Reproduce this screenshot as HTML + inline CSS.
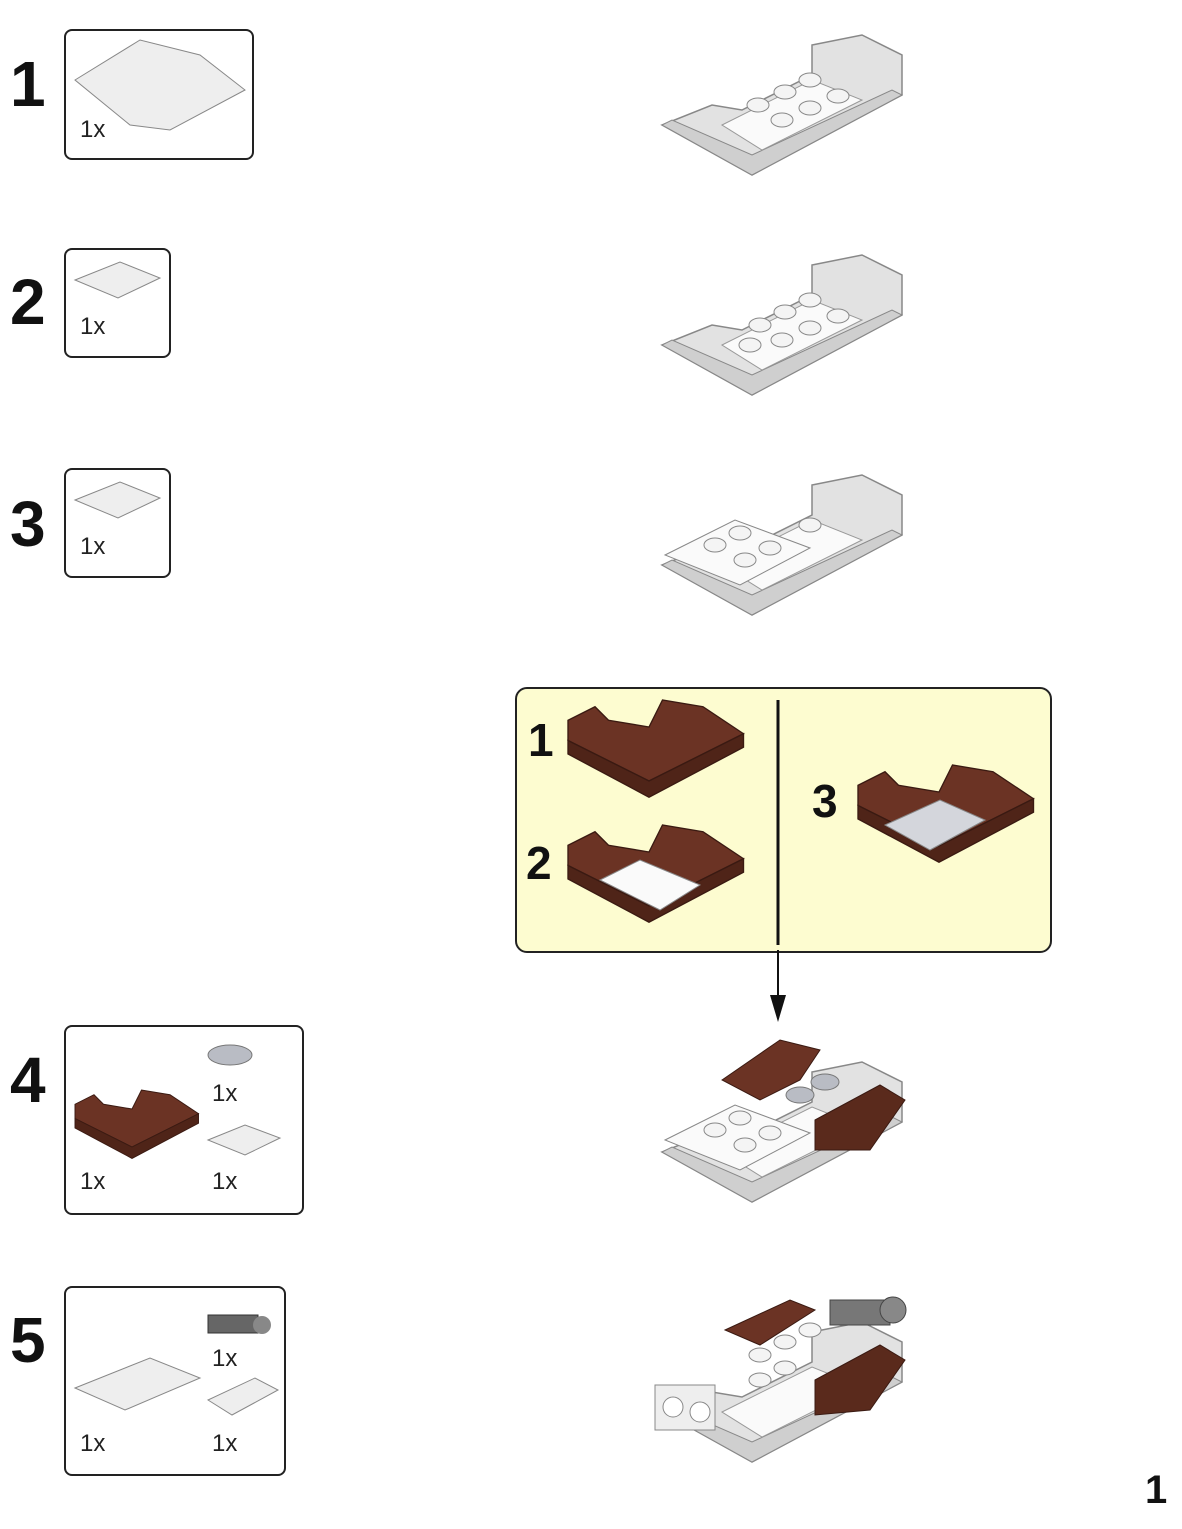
<!DOCTYPE html>
<html><head><meta charset="utf-8"><style>
body{margin:0;width:1182px;height:1529px;background:#fff;position:relative;overflow:hidden;font-family:"Liberation Sans",sans-serif}
.n{position:absolute;font-weight:bold;font-size:64px;color:#111;line-height:1}
.box{position:absolute;border:2.5px solid #222;border-radius:8px;background:#fff}
.q{position:absolute;font-size:24px;color:#222}
svg{position:absolute;left:0;top:0}
</style></head><body>
<div class="n" style="left:10px;top:52px">1</div>
<div class="n" style="left:10px;top:270px">2</div>
<div class="n" style="left:10px;top:492px">3</div>
<div class="n" style="left:10px;top:1048px">4</div>
<div class="n" style="left:10px;top:1308px">5</div>
<div class="box" style="left:64px;top:29px;width:186px;height:127px"></div>
<div class="box" style="left:64px;top:248px;width:103px;height:106px"></div>
<div class="box" style="left:64px;top:468px;width:103px;height:106px"></div>
<div class="box" style="left:64px;top:1025px;width:236px;height:186px"></div>
<div class="box" style="left:64px;top:1286px;width:218px;height:186px"></div>
<div class="box" style="left:515px;top:687px;width:533px;height:262px;background:#fdfcd0;border-radius:12px"></div>
<div class="q" style="left:80px;top:116px">1x</div>
<div class="q" style="left:80px;top:313px">1x</div>
<div class="q" style="left:80px;top:533px">1x</div>
<div class="q" style="left:80px;top:1168px">1x</div>
<div class="q" style="left:212px;top:1080px">1x</div>
<div class="q" style="left:212px;top:1168px">1x</div>
<div class="q" style="left:212px;top:1345px">1x</div>
<div class="q" style="left:80px;top:1430px">1x</div>
<div class="q" style="left:212px;top:1430px">1x</div>
<div class="n" style="left:528px;top:717px;font-size:46px">1</div>
<div class="n" style="left:526px;top:840px;font-size:46px">2</div>
<div class="n" style="left:812px;top:778px;font-size:46px">3</div>
<div class="n" style="left:1145px;top:1470px;font-size:40px">1</div>
<svg width="1182" height="1529">
<defs>
<g id="boat">
<polygon points="0,90 90,140 240,60 240,20 200,0 150,10 150,40 80,75 50,70 0,90" fill="#e2e2e2" stroke="#888" stroke-width="1.5"/>
<polygon points="0,90 90,140 240,60 230,55 90,120 10,85" fill="#cfcfcf" stroke="#888"/>
<polygon points="60,90 150,45 200,65 100,115" fill="#fafafa" stroke="#999"/>
</g>
<g id="stud"><ellipse cx="0" cy="0" rx="11" ry="7" fill="#f4f4f4" stroke="#888"/></g>
<g id="br">
<polygon points="0,30 60,60 130,25 100,5 70,0 60,20 30,15 20,5 0,15" fill="#6b3324" stroke="#3a1a12"/>
<polygon points="0,30 60,60 130,25 130,35 60,72 0,40" fill="#4f2418" stroke="#3a1a12"/>
</g>
</defs>
<!-- main models -->
<use href="#boat" x="662" y="35"/>
<use href="#stud" x="785" y="92"/><use href="#stud" x="810" y="80"/><use href="#stud" x="758" y="105"/><use href="#stud" x="782" y="120"/><use href="#stud" x="810" y="108"/><use href="#stud" x="838" y="96"/>
<use href="#boat" x="662" y="255"/>
<use href="#stud" x="760" y="325"/><use href="#stud" x="785" y="312"/><use href="#stud" x="810" y="300"/><use href="#stud" x="782" y="340"/><use href="#stud" x="810" y="328"/><use href="#stud" x="838" y="316"/><use href="#stud" x="750" y="345"/>
<use href="#boat" x="662" y="475"/>
<polygon points="665,555 735,520 810,548 740,585" fill="#fafafa" stroke="#888"/>
<use href="#stud" x="715" y="545"/><use href="#stud" x="740" y="533"/><use href="#stud" x="745" y="560"/><use href="#stud" x="770" y="548"/><use href="#stud" x="810" y="525"/>
<use href="#boat" x="662" y="1062"/>
<polygon points="665,1140 735,1105 810,1133 740,1170" fill="#fafafa" stroke="#888"/>
<use href="#stud" x="715" y="1130"/><use href="#stud" x="740" y="1118"/><use href="#stud" x="745" y="1145"/><use href="#stud" x="770" y="1133"/>
<polygon points="722,1080 780,1040 820,1050 800,1080 760,1100" fill="#6b3324" stroke="#3a1a12"/>
<polygon points="815,1120 880,1085 905,1100 870,1150 815,1150" fill="#5a2a1c" stroke="#3a1a12"/>
<ellipse cx="800" cy="1095" rx="14" ry="8" fill="#b9bcc4" stroke="#777"/><ellipse cx="825" cy="1082" rx="14" ry="8" fill="#b9bcc4" stroke="#777"/>
<use href="#boat" x="662" y="1322"/>
<rect x="655" y="1385" width="60" height="45" fill="#eee" stroke="#888"/>
<circle cx="673" cy="1407" r="10" fill="#fff" stroke="#888"/><circle cx="700" cy="1412" r="10" fill="#fff" stroke="#888"/>
<polygon points="725,1330 790,1300 815,1310 760,1345" fill="#6b3324" stroke="#3a1a12"/>
<polygon points="815,1380 880,1345 905,1360 870,1410 815,1415" fill="#5a2a1c" stroke="#3a1a12"/>
<rect x="830" y="1300" width="60" height="25" fill="#777" stroke="#444"/>
<circle cx="893" cy="1310" r="13" fill="#888" stroke="#444"/>
<use href="#stud" x="760" y="1355"/><use href="#stud" x="785" y="1342"/><use href="#stud" x="810" y="1330"/><use href="#stud" x="760" y="1380"/><use href="#stud" x="785" y="1368"/>
<!-- yellow box contents -->
<line x1="778" y1="700" x2="778" y2="945" stroke="#111" stroke-width="3"/>
<line x1="778" y1="950" x2="778" y2="1000" stroke="#111" stroke-width="2"/>
<polygon points="770,995 786,995 778,1022" fill="#111"/>
<use href="#br" x="568" y="700" transform="translate(568,700) scale(1.35) translate(-568,-700)"/>
<use href="#br" x="568" y="825" transform="translate(568,825) scale(1.35) translate(-568,-825)"/>
<polygon points="600,880 640,860 700,885 660,910" fill="#fafafa" stroke="#888"/>
<use href="#br" x="858" y="765" transform="translate(858,765) scale(1.35) translate(-858,-765)"/>
<polygon points="885,825 940,800 985,820 930,850" fill="#d4d6dc" stroke="#888"/>
<!-- part icons -->
<polygon points="75,80 140,40 200,55 245,90 170,130 130,125" fill="#eee" stroke="#888"/>
<polygon points="75,280 120,262 160,278 118,298" fill="#eee" stroke="#888"/>
<polygon points="75,500 120,482 160,498 118,518" fill="#eee" stroke="#888"/>
<use href="#br" x="75" y="1090" transform="translate(75,1090) scale(0.95) translate(-75,-1090)"/>
<ellipse cx="230" cy="1055" rx="22" ry="10" fill="#b9bcc4" stroke="#777"/>
<polygon points="208,1140 245,1125 280,1138 245,1155" fill="#eee" stroke="#888"/>
<polygon points="75,1388 150,1358 200,1378 125,1410" fill="#eee" stroke="#888"/>
<rect x="208" y="1315" width="50" height="18" fill="#666" stroke="#333"/><circle cx="262" cy="1325" r="9" fill="#888"/>
<polygon points="208,1400 255,1378 278,1390 232,1415" fill="#eee" stroke="#888"/>
</svg>
</body></html>
